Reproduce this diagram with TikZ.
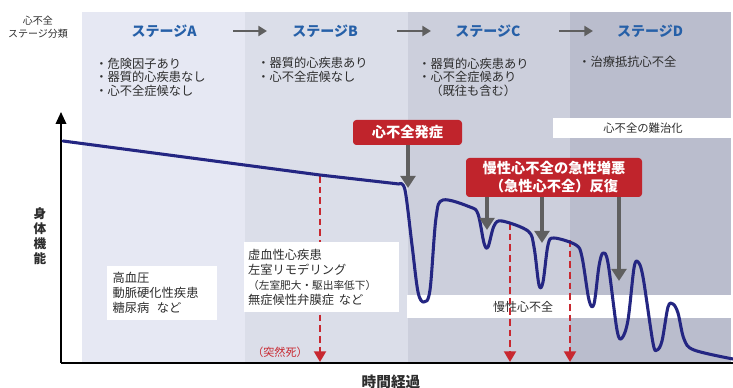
\documentclass[tikz,border=0pt]{standalone}
\usepackage{fontspec}
\setmainfont{Noto Sans CJK JP}
\usetikzlibrary{arrows.meta}
\definecolor{bandA}{RGB}{230,232,243}
\definecolor{bandB}{RGB}{219,222,233}
\definecolor{bandC}{RGB}{204,207,220}
\definecolor{bandD}{RGB}{186,189,205}
\definecolor{stageblue}{RGB}{38,96,168}
\definecolor{txtgray}{RGB}{45,45,45}
\definecolor{boxred}{RGB}{192,36,44}
\definecolor{dashred}{RGB}{200,40,48}
\definecolor{arrgray}{RGB}{95,95,95}
\definecolor{navy}{RGB}{36,38,130}
\tikzset{
  stagetitle/.style={font=\fontsize{10.5}{12}\selectfont\bfseries, text=stageblue, inner sep=0pt},
  bullets/.style={font=\fontsize{9.2}{10.1}\selectfont, text=txtgray, align=left, anchor=west, inner sep=0pt},
  wbox/.style={fill=white, draw=none, inner sep=0pt},
  boxtext/.style={font=\fontsize{9.2}{11}\selectfont, text=txtgray, align=left},
  redbox/.style={fill=boxred, rounded corners=2.5pt, text=white, font=\fontsize{10.7}{13.5}\selectfont\bfseries, align=center, inner sep=0pt},
  garrow/.style={draw=arrgray, line width=3.6pt, -{Triangle[width=11pt,length=9pt]}},
  stagearrow/.style={draw=arrgray, line width=2.2pt, -{Triangle[width=7.5pt,length=6.5pt]}},
  darrow/.style={draw=dashred, line width=1.5pt, dash pattern=on 5pt off 3pt, -{Triangle[width=9pt,length=8pt]}},
  curve/.style={draw=navy, line width=2.3pt, line join=round, line cap=round},
  axis/.style={draw=black, line width=1.1pt}
}
\begin{document}
\begin{tikzpicture}[x=0.75pt,y=-0.75pt]
\useasboundingbox (0,0) rectangle (733,388);
\fill[white] (0,0) rectangle (733,388);
% stage bands
\fill[bandA] (82,12) rectangle (245,363);
\fill[bandB] (245,12) rectangle (408,363);
\fill[bandC] (408,12) rectangle (570,363);
\fill[bandD] (570,12) rectangle (731,363);

% header left
\node[font=\fontsize{7.5}{9.5}\selectfont, text=txtgray, align=center, inner sep=0pt] (hdr) at (38,27) {心不全\\ステージ分類};

% stage titles
\node[stagetitle] (sA) at (164,31) {ステージA};
\node[stagetitle] (sB) at (325,31) {ステージB};
\node[stagetitle] (sC) at (488,31) {ステージC};
\node[stagetitle] (sD) at (650,31) {ステージD};
\coordinate (aAs) at (233,31); \coordinate (aAe) at (267,31);
\coordinate (aBs) at (397,31); \coordinate (aBe) at (431,31);
\coordinate (aCs) at (559,31); \coordinate (aCe) at (593,31);
\draw[stagearrow] (aAs) -- (aAe);
\draw[stagearrow] (aBs) -- (aBe);
\draw[stagearrow] (aCs) -- (aCe);

% bullets
\node[bullets] (bA) at (95,77) {・危険因子あり\\・器質的心疾患なし\\・心不全症候なし};
\node[bullets] (bB) at (257,70) {・器質的心疾患あり\\・心不全症候なし};
\node[bullets] (bC) at (418,77) {・器質的心疾患あり\\・心不全症候あり\\\hspace*{9pt}（既往も含む）};
\node[bullets] (bD) at (578,62) {・治療抵抗心不全};

% white band boxes
\node[wbox, minimum width=135pt, minimum height=15pt, font=\fontsize{8.5}{10}\selectfont, text=txtgray] (nanchi) at (643,128) {心不全の難治化};
\node[wbox, minimum width=244.5pt, minimum height=17.25pt] (mansei) at (570,306.5) {};
\node[font=\fontsize{9}{10}\selectfont, text=txtgray, inner sep=0pt] (manseit) at (523,307) {慢性心不全};

% red dashed arrows
\coordinate (d1t) at (320,176); \coordinate (d1b) at (320,362);
\coordinate (d2t) at (510,223); \coordinate (d2b) at (510,362);
\coordinate (d3t) at (570,240); \coordinate (d3b) at (570,362);
\draw[darrow] (d1t) -- (d1b);
\draw[darrow] (d2t) -- (d2b);
\draw[darrow] (d3t) -- (d3b);
\node[font=\fontsize{8.3}{9}\selectfont, text=dashred, inner sep=0pt] (sudden) at (280,352) {（突然死）};

% text boxes (cover the dashed line)
\node[wbox, boxtext, text width=74pt, inner xsep=4.5pt, minimum height=40.5pt] (boxA) at (162,293) {高血圧\\動脈硬化性疾患\\糖尿病\hspace{0.6em}など};
\node[wbox, boxtext, text width=110pt, inner xsep=3pt, minimum height=52.5pt, font=\fontsize{9.2}{11.25}\selectfont] (boxB) at (321.5,277) {虚血性心疾患\\左室リモデリング\\{\fontsize{8}{11.25}\selectfont （左室肥大・駆出率低下）}\\無症候性弁膜症\hspace{0.4em}など};

% axes
\coordinate (O) at (61,363);
\coordinate (Ytop) at (61,112);
\coordinate (Xend) at (733,363);
\draw[axis, -{Triangle[width=8pt,length=9pt]}] (O) -- (Ytop);
\draw[axis] (O) -- (Xend);
\node[font=\fontsize{9.5}{11.25}\selectfont\bfseries, text=txtgray, align=center, inner sep=0pt] (ylab) at (40,236) {身\\体\\機\\能};
\node[font=\fontsize{11}{12}\selectfont\bfseries, text=txtgray, inner sep=0pt] (xlab) at (391,382) {時間経過};

% curve
\draw[curve] (63,141) -- (320,175) -- (399,184)
  plot[smooth, tension=0.55] coordinates {(399,184) (405,190) (412,245) (418,292) (424,302) (430,290) (436,218) (443,200) (470,207) (478,214) (484,243) (488,247) (494,226) (502,221) (528,231) (534,247) (539,285) (543,282) (548,245) (554,238) (576,245) (582,257) (589,300) (594,304) (599,266) (603,253) (608,263) (617,330) (622,338) (628,320) (634,268) (638,262) (643,277) (653,343) (657,350) (662,341) (668,307) (673,304) (678,313) (684,339) (694,350) (733,359)};

% red boxes and gray arrows
\node[redbox, minimum width=81.75pt, minimum height=18.75pt] (rb1) at (407.5,132.5) {心不全発症};
\node[redbox, minimum width=132pt, minimum height=29.25pt] (rb2) at (554,177.5) {慢性心不全の急性増悪\\（急性心不全）反復};
\coordinate (g1) at (408,188);
\coordinate (g2) at (487,230);
\coordinate (g3) at (542,243);
\coordinate (g4) at (619,281);
\draw[garrow] (rb1.south -| g1) -- (g1);
\draw[garrow] (rb2.south -| g2) -- (g2);
\draw[garrow] (rb2.south -| g3) -- (g3);
\draw[garrow] (rb2.south -| g4) -- (g4);
\end{tikzpicture}
\end{document}
